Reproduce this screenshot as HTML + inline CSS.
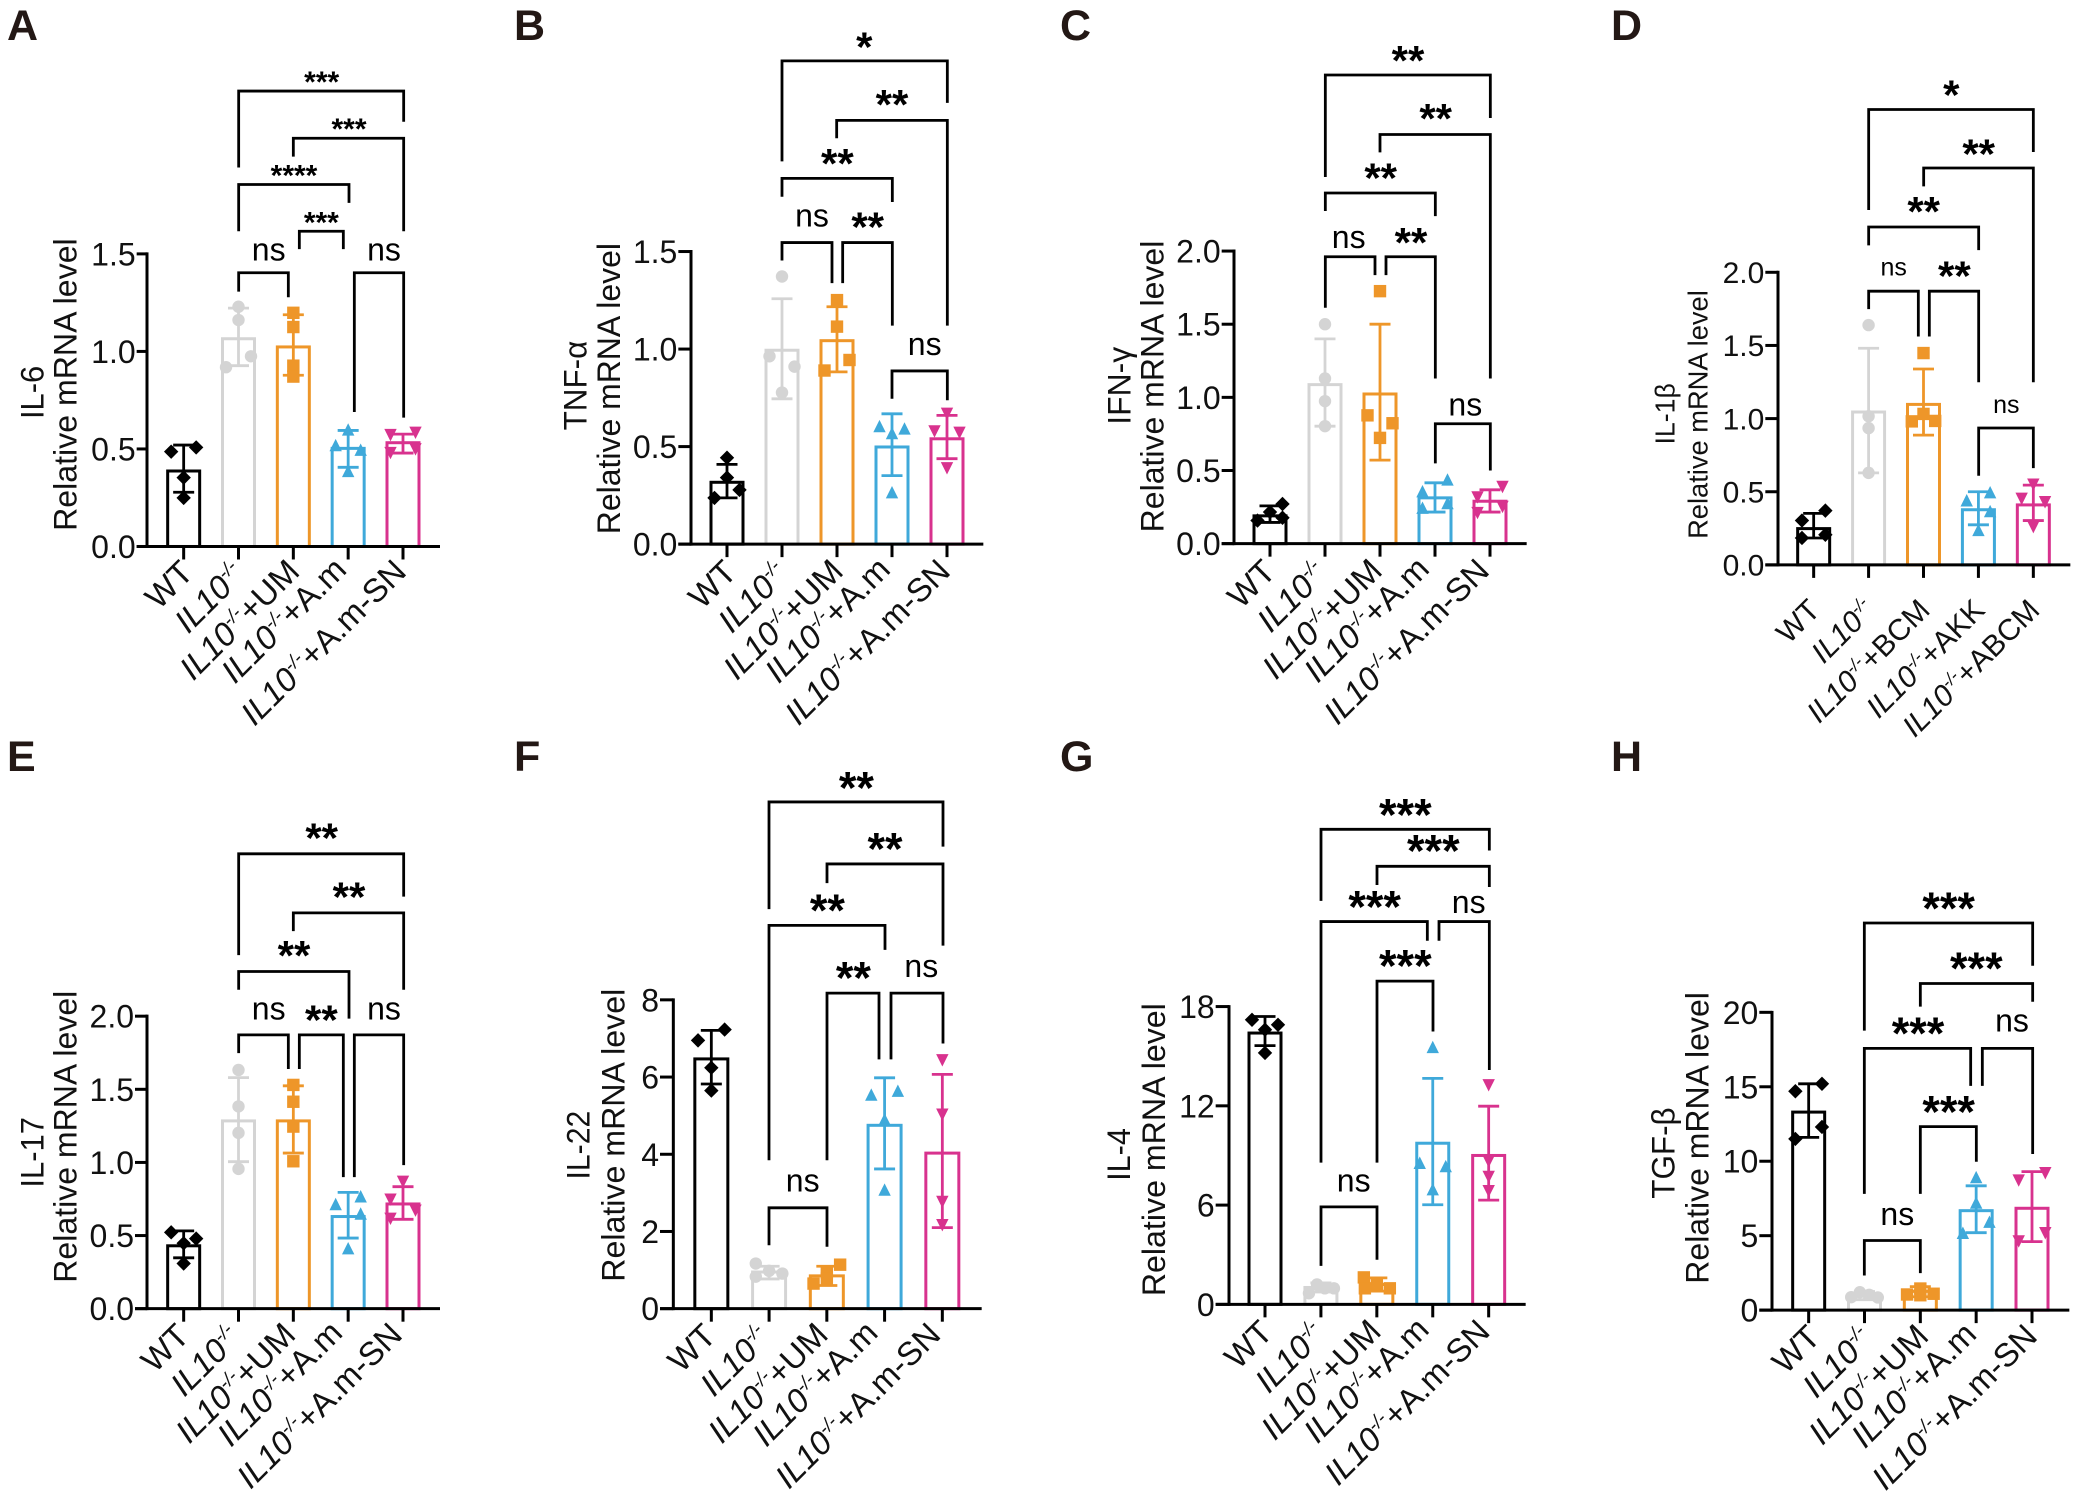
<!DOCTYPE html>
<html lang="en">
<head>
<meta charset="utf-8">
<title>Relative mRNA levels of cytokines</title>
<style>
html,body{margin:0;padding:0;background:#fff;}
svg{display:block;font-family:"Liberation Sans",Arial,sans-serif;}
.letter{font-size:43px;font-weight:700;fill:#231815;}
</style>
</head>
<body>
<svg id="figure" xmlns="http://www.w3.org/2000/svg" width="2077" height="1493" viewBox="0 0 2077 1493">
<rect width="2077" height="1493" fill="#fff"/>
<text class="letter" x="7" y="40">A</text>
<text class="letter" x="514" y="40">B</text>
<text class="letter" x="1060" y="40">C</text>
<text class="letter" x="1611" y="40">D</text>
<text class="letter" x="7" y="771">E</text>
<text class="letter" x="514" y="771">F</text>
<text class="letter" x="1060" y="771">G</text>
<text class="letter" x="1611" y="771">H</text>
</svg>
<script>
// ---------- shared category labels ----------
const categoriesUM = ["WT", "IL10-/-", "IL10-/-+UM", "IL10-/-+A.m", "IL10-/-+A.m-SN"];
const categoriesD = ["WT", "IL10-/-", "IL10-/-+BCM", "IL10-/-+AKK", "IL10-/-+ABCM"];

// ---------- panel A: IL-6 ----------
const ticksA = [0, 0.5, 1, 1.5];
const tickLabelsA = ["0.0", "0.5", "1.0", "1.5"];
const meansA = [0.387, 1.065, 1.023, 0.503, 0.532];
const errHighA = [0.52, 1.222, 1.188, 0.595, 0.576];
const errLowA = [0.278, 0.927, 0.878, 0.406, 0.479];
const pointsA = [[0.486, 0.508, 0.353, 0.249], [1.229, 1.161, 0.975, 0.919], [1.198, 1.125, 0.927, 0.871], [0.595, 0.515, 0.491, 0.382], [0.576, 0.588, 0.503, 0.484]];
const slotsA = [[-1, 1, 0, 0], [0, 0, 1, -1], [0, 0, 0, 0], [0, -1, 1, 0], [-1, 1, 1, -1]];

// ---------- panel B: TNF-alpha ----------
const ticksB = [0, 0.5, 1, 1.5];
const tickLabelsB = ["0.0", "0.5", "1.0", "1.5"];
const meansB = [0.317, 0.994, 1.043, 0.498, 0.54];
const errHighB = [0.409, 1.258, 1.217, 0.668, 0.66];
const errLowB = [0.237, 0.745, 0.883, 0.351, 0.438];
const pointsB = [[0.443, 0.341, 0.278, 0.237], [1.372, 0.963, 0.91, 0.777], [1.251, 1.115, 0.944, 0.89], [0.6, 0.588, 0.564, 0.261], [0.673, 0.583, 0.576, 0.394]];
const slotsB = [[0, 0, 1, -1], [0, -1, 1, 0], [0, 0, 1, -1], [-1, 1, 0, 0], [0, -1, 1, 0]];

// ---------- panel C: IFN-gamma ----------
const ticksC = [0, 0.5, 1, 1.5, 2];
const tickLabelsC = ["0.0", "0.5", "1.0", "1.5", "2.0"];
const meansC = [0.19, 1.087, 1.023, 0.313, 0.29];
const errHighC = [0.258, 1.4, 1.5, 0.416, 0.368];
const errLowC = [0.145, 0.803, 0.571, 0.216, 0.216];
const pointsC = [[0.271, 0.216, 0.177, 0.158], [1.5, 1.129, 0.974, 0.803], [1.726, 0.877, 0.823, 0.723], [0.432, 0.352, 0.271, 0.239], [0.394, 0.323, 0.258, 0.216]];
const slotsC = [[1, 0, 1, -1], [0, 0, 0, 0], [0, -1, 1, 0], [1, -1, 1, -1], [1, -1, 1, -1]];

// ---------- panel D: IL-1beta ----------
const ticksD = [0, 0.5, 1, 1.5, 2];
const tickLabelsD = ["0.0", "0.5", "1.0", "1.5", "2.0"];
const meansD = [0.248, 1.045, 1.097, 0.377, 0.41];
const errHighD = [0.352, 1.481, 1.339, 0.5, 0.545];
const errLowD = [0.184, 0.629, 0.887, 0.274, 0.303];
const pointsD = [[0.371, 0.303, 0.206, 0.184], [1.639, 1.016, 0.935, 0.629], [1.448, 1.032, 0.984, 0.981], [0.49, 0.435, 0.361, 0.232], [0.555, 0.458, 0.435, 0.265]];
const slotsD = [[1, -1, 1, -1], [0, 0, 0, 0], [0, 0, 1, -1], [1, -1, 1, 0], [0, -1, 1, 0]];

// ---------- panel E: IL-17 ----------
const ticksE = [0, 0.5, 1, 1.5, 2];
const tickLabelsE = ["0.0", "0.5", "1.0", "1.5", "2.0"];
const meansE = [0.43, 1.284, 1.284, 0.63, 0.716];
const errHighE = [0.532, 1.58, 1.524, 0.795, 0.834];
const errLowE = [0.348, 1.005, 1.064, 0.483, 0.611];
const pointsE = [[0.522, 0.479, 0.447, 0.309], [1.632, 1.383, 1.202, 0.956], [1.53, 1.415, 1.245, 1.008], [0.762, 0.709, 0.644, 0.407], [0.874, 0.752, 0.677, 0.621]];
const slotsE = [[-1, 1, 0, 0], [0, 0, 0, 0], [0, 0, 0, 0], [1, -1, 1, 0], [0, -1, 1, -1]];

// ---------- panel F: IL-22 ----------
const ticksF = [0, 2, 4, 6, 8];
const tickLabelsF = ["0", "2", "4", "6", "8"];
const meansF = [6.47, 0.95, 0.85, 4.75, 4.03];
const errHighF = [7.21, 1.1, 1.1, 5.98, 6.07];
const errLowF = [5.82, 0.77, 0.6, 3.62, 2.1];
const pointsF = [[7.23, 6.95, 6.24, 5.65], [1.17, 0.98, 0.83, 0.91], [1.14, 0.93, 0.65, 0.78], [5.52, 5.62, 4.88, 3.06], [6.46, 5.05, 2.79, 2.19]];
const slotsF = [[1, -1, 0, 0], [-1, 0, -1, 1], [1, 0, -1, 0], [-1, 1, 0, 0], [0, 0, 0, 0]];

// ---------- panel G: IL-4 ----------
const ticksG = [0, 6, 12, 18];
const tickLabelsG = ["0", "6", "12", "18"];
const meansG = [16.4, 1.02, 1.2, 9.74, 9.0];
const errHighG = [17.4, 1.3, 1.6, 13.66, 11.98];
const errLowG = [15.64, 0.75, 0.8, 6.02, 6.3];
const pointsG = [[17.2, 16.9, 16.6, 15.2], [0.67, 1.2, 0.97, 0.97], [1.63, 1.2, 0.97, 0.97], [15.5, 8.5, 8.3, 6.9], [13.3, 8.7, 7.76, 6.9]];
const slotsG = [[-1, 1, 0, 0], [-0.92, -0.3, 0.3, 1], [-1, 0, -0.92, 1], [0, -1, 1, 0], [0, 0, 0, 0]];

// ---------- panel H: TGF-beta ----------
const ticksH = [0, 5, 10, 15, 20];
const tickLabelsH = ["0", "5", "10", "15", "20"];
const meansH = [13.3, 0.97, 1.26, 6.68, 6.84];
const errHighH = [15.2, 1.25, 1.58, 8.35, 9.3];
const errLowH = [11.6, 0.7, 0.9, 5.2, 4.6];
const pointsH = [[15.2, 14.7, 12.3, 11.5], [1.2, 1.03, 0.87, 0.85], [1.45, 1.1, 1.05, 1.0], [8.87, 7.16, 5.87, 5.13], [9.26, 8.77, 5.23, 4.68]];
const slotsH = [[1, -1, 1, -1], [-0.35, 0.35, -1, 1], [0, 1, -1, 0], [0, 0, 1, -1], [1, -1, 1, -1]];

// ---------- bar styling ----------
const seriesColors = ["#000000", "#d4d4d4", "#ee9629", "#3fa9da", "#d8328e"];
const markerKinds = ["diamond", "circle", "square", "triangle", "down"];

// ---------- label placement nudges per category position ----------
const labelNudgeX = [6.4, 3, 3, -5, 0];
const labelNudgeY = [1, 3, 0, -2, 0];

// ---------- layout: measured in crop units (x / 3, y / sy, plus ox / oy) ----------
const panels = [
{ id:"a", ox:0, oy:0, sy:2.119, axisX:441, base:1158, top:538, yMax:1.5, xEnd:1320, cat0:551, step:164.5, tickLeft:410, tickFs:32, labelFs:33, labelDx:5, labelDy:27, nudge:1, starFs:30, nsFs:32, slot:12.5, barW:32,
  categories:categoriesUM, ticks:ticksA, tickLabels:tickLabelsA, means:meansA, hi:errHighA, lo:errLowA, points:pointsA, slots:slotsA,
  titles:[["IL-6",130,888,775],["Relative mRNA level",230,1125,505]],
  brackets:[[716,1211,193,355,258,"***",965,168],[880,1211,293,332,490,"***",1047,267],[716,1047,391,490,430,"****",882,366],[898,1030,490,528,528,"***",964,465],[716,865,578,618,630,"ns",806,552],[1063,1211,578,873,885,"ns",1152,552]] },
{ id:"b", ox:520, oy:0, sy:2.119, axisX:513, base:1153, top:533, yMax:1.5, xEnd:1390, cat0:621, step:165, tickLeft:475, tickFs:32, labelFs:33, labelDx:5, labelDy:29, nudge:1, starFs:42, nsFs:32, slot:12.5, barW:32,
  categories:categoriesUM, ticks:ticksB, tickLabels:tickLabelsB, means:meansB, hi:errHighB, lo:errLowB, points:pointsB, slots:slotsB,
  titles:[["TNF-α",200,912,722],["Relative mRNA level",300,1132,515]],
  brackets:[[786,1282,129,342,218,"*",1033,88],[950,1282,255,293,690,"**",1116,210],[786,1117,378,417,428,"**",952,335],[786,936,514,552,600,"ns",876,480],[968,1117,514,600,690,"**",1043,470],[1116,1282,786,845,848,"ns",1214,752]] },
{ id:"c", ox:1040, oy:0, sy:2.119, axisX:582, base:1152, top:532, yMax:2, xEnd:1460, cat0:690, step:165, tickLeft:545, tickFs:32, labelFs:33, labelDx:1, labelDy:29, nudge:1, starFs:42, nsFs:32, slot:12.5, barW:32,
  categories:categoriesUM, ticks:ticksC, tickLabels:tickLabelsC, means:meansC, hi:errHighC, lo:errLowC, points:pointsC, slots:slotsC,
  titles:[["IFN-γ",272,900,735],["Relative mRNA level",370,1128,510]],
  brackets:[[856,1351,159,375,250,"**",1104,117],[1020,1351,285,323,802,"**",1187,240],[856,1186,409,447,458,"**",1022,366],[856,1005,544,652,583,"ns",926,525],[1038,1186,544,583,802,"**",1113,502],[1186,1351,898,982,997,"ns",1276,880]] },
{ id:"d", ox:1557, oy:0, sy:2.119, axisX:663, base:1197, top:577, yMax:2, xEnd:1540, cat0:770, step:164.75, tickLeft:625, tickFs:30, labelFs:30, labelDx:8, labelDy:47, nudge:0, starFs:42, nsFs:25, slot:11.7, barW:32,
  categories:categoriesD, ticks:ticksD, tickLabels:tickLabelsD, means:meansD, hi:errHighD, lo:errLowD, points:pointsD, slots:slotsD,
  titles:[["IL-1β",352,942,812],["Relative mRNA level",452,1142,615]],
  brackets:[[935,1429,232,445,322,"*",1183,190],[1100,1429,356,395,810,"**",1265,315],[935,1265,481,520,530,"**",1100,437],[935,1084,617,655,713,"ns",1010,584],[1117,1265,617,713,810,"**",1192,573],[1265,1429,907,1008,992,"ns",1348,875]] },
{ id:"e", ox:0, oy:740, sy:2.082, axisX:441, base:1184, top:575, yMax:2, xEnd:1320, cat0:551, step:164.5, tickLeft:405, tickFs:32, labelFs:33, labelDx:1, labelDy:28, nudge:1, starFs:42, nsFs:32, slot:12.5, barW:32,
  categories:categoriesUM, ticks:ticksE, tickLabels:tickLabelsE, means:meansE, hi:errHighE, lo:errLowE, points:pointsE, slots:slotsE,
  titles:[["IL-17",130,932,785],["Relative mRNA level",230,1130,522]],
  brackets:[[716,1211,237,448,326,"**",965,193],[880,1211,360,398,520,"**",1047,316],[716,1047,482,520,580,"**",882,438],[716,865,614,652,685,"ns",806,582],[898,1030,614,685,910,"**",964,572],[1063,1211,614,910,885,"ns",1152,582]] },
{ id:"f", ox:520, oy:740, sy:2.082, axisX:460, base:1184, top:541, yMax:8, xEnd:1385, cat0:574, step:173.25, tickLeft:420, tickFs:32, labelFs:33, labelDx:0, labelDy:28, nudge:1, starFs:45, nsFs:32, slot:13.3, barW:33,
  categories:categoriesUM, ticks:ticksF, tickLabels:tickLabelsF, means:meansF, hi:errHighF, lo:errLowF, points:pointsF, slots:slotsF,
  titles:[["IL-22",208,915,772],["Relative mRNA level",313,1128,518]],
  brackets:[[747,1269,129,352,222,"**",1009,87],[921,1269,258,298,428,"**",1095,214],[747,1095,386,875,437,"**",922,342],[921,1077,527,875,665,"**",1000,483],[1113,1269,527,665,632,"ns",1204,493],[747,921,974,1052,1055,"ns",848,940]] },
{ id:"g", ox:1040, oy:740, sy:2.082, axisX:567, base:1175, top:555, yMax:18, xEnd:1457, cat0:675, step:167.75, tickLeft:527, tickFs:32, labelFs:33, labelDx:3, labelDy:29, nudge:1, starFs:45, nsFs:32, slot:13, barW:32,
  categories:categoriesUM, ticks:ticksG, tickLabels:tickLabelsG, means:meansG, hi:errHighG, lo:errLowG, points:pointsG, slots:slotsG,
  titles:[["IL-4",270,918,808],["Relative mRNA level",375,1158,548]],
  brackets:[[843,1348,186,335,230,"***",1096,143],[1011,1348,263,302,306,"***",1180,218],[843,1162,378,880,418,"***",1004,335],[1197,1348,378,418,687,"ns",1286,360],[1011,1179,502,880,607,"***",1096,458],[843,1011,972,1095,1082,"ns",941,940]] },
{ id:"h", ox:1557, oy:740, sy:2.082, axisX:645, base:1187, top:567, yMax:20, xEnd:1537, cat0:755, step:167.5, tickLeft:607, tickFs:32, labelFs:33, labelDx:7, labelDy:28, nudge:1, starFs:45, nsFs:32, slot:13.3, barW:32,
  categories:categoriesUM, ticks:ticksH, tickLabels:tickLabelsH, means:meansH, hi:errHighH, lo:errLowH, points:pointsH, slots:slotsH,
  titles:[["TGF-β",352,955,765],["Relative mRNA level",455,1132,525]],
  brackets:[[922,1427,381,605,470,"***",1175,338],[1090,1427,507,555,545,"***",1258,463],[922,1241,642,945,720,"***",1083,598],[1276,1427,642,720,862,"ns",1365,607],[1090,1258,805,945,878,"***",1175,762],[922,1090,1042,1115,1110,"ns",1021,1010]] }
];

const SVG_NS = "http://www.w3.org/2000/svg";
const root = document.getElementById("figure");

function svgEl(tag, parent, attrs) {
  const node = document.createElementNS(SVG_NS, tag);
  for (const k in attrs) node.setAttribute(k, attrs[k]);
  parent.appendChild(node);
  return node;
}

function drawMarker(parent, kind, cx, cy, color) {
  const r = 6.2;
  let el;
  if (kind === "circle") {
    el = svgEl("circle", parent, { cx: cx, cy: cy, r: r, fill: color });
  } else if (kind === "square") {
    el = svgEl("rect", parent, { x: cx - r, y: cy - r, width: 2 * r, height: 2 * r, fill: color });
  } else if (kind === "diamond") {
    const p = [[cx, cy - r - 1], [cx + r + 1, cy], [cx, cy + r + 1], [cx - r - 1, cy]];
    el = svgEl("polygon", parent, { points: p.join(" "), fill: color });
  } else if (kind === "triangle") {
    const p = [[cx, cy - r - 1], [cx + r, cy + r - 1], [cx - r, cy + r - 1]];
    el = svgEl("polygon", parent, { points: p.join(" "), fill: color });
  } else {
    const p = [[cx, cy + r + 1], [cx + r, cy - r + 1], [cx - r, cy - r + 1]];
    el = svgEl("polygon", parent, { points: p.join(" "), fill: color });
  }
  return el;
}

function drawPanel(p) {
  const X = function (zx) { return p.ox + zx / 3; };
  const Y = function (zy) { return p.oy + zy / p.sy; };
  const xCat = function (i) { return X(p.cat0 + i * p.step); };
  const yVal = function (v) { return Y(p.base + (p.top - p.base) * v / p.yMax); };
  const base = Y(p.base);

  const g = svgEl("g", root, {});
  
  

  // bars
  p.means.forEach(function (m, i) {
    const bar = svgEl("rect", g, { x: xCat(i) - p.barW / 2, y: yVal(m), width: p.barW, height: Math.max(0, base - yVal(m)), fill: "none", stroke: seriesColors[i], "stroke-width": 3 });
    
    
  });

  // error bars
  p.means.forEach(function (m, i) {
    const cx = xCat(i);
    const yh = yVal(p.hi[i]);
    const yl = yVal(p.lo[i]);
    const d = "M" + cx + " " + yh + "V" + yl + "M" + (cx - 10.5) + " " + yh + "H" + (cx + 10.5) + "M" + (cx - 10.5) + " " + yl + "H" + (cx + 10.5);
    const err = svgEl("path", g, { d: d, fill: "none", stroke: seriesColors[i], "stroke-width": 2.8 });
    
    
  });

  // data points
  p.points.forEach(function (vals, i) {
    vals.forEach(function (v, j) {
      const mk = drawMarker(g, markerKinds[i], xCat(i) + p.slots[i][j] * p.slot, yVal(v), seriesColors[i]);
      
      
    });
  });

  // axes
  const yAxis = svgEl("line", g, { x1: X(p.axisX), x2: X(p.axisX), y1: yVal(p.yMax) - 1.5, y2: base + 1.5, stroke: "#000", "stroke-width": 3 });
  
  
  const xAxis = svgEl("line", g, { x1: X(p.tickLeft), x2: X(p.xEnd), y1: base, y2: base, stroke: "#000", "stroke-width": 3 });
  
  

  // y ticks
  p.ticks.forEach(function (t, i) {
    const tick = svgEl("line", g, { x1: X(p.tickLeft), x2: X(p.axisX), y1: yVal(t), y2: yVal(t), stroke: "#000", "stroke-width": 3 });
    
    
    const lab = svgEl("text", g, { x: X(p.tickLeft) - 1, y: yVal(t) + p.tickFs * 0.36, "text-anchor": "end", "font-size": p.tickFs, fill: "#111" });
    
    
    lab.textContent = p.tickLabels[i];
  });

  // x ticks and rotated labels
  p.categories.forEach(function (c, i) {
    const cx = xCat(i);
    const tick = svgEl("line", g, { x1: cx, x2: cx, y1: base, y2: base + 13, stroke: "#000", "stroke-width": 3 });
    
    
    const lx = cx + p.labelDx + p.nudge * labelNudgeX[i];
    const ly = base + p.labelDy + p.nudge * labelNudgeY[i];
    const lab = svgEl("text", g, { transform: "translate(" + lx + "," + ly + ") rotate(-45)", "text-anchor": "end", "font-size": p.labelFs, fill: "#111" });
    
    
    if (c.indexOf("-/-") < 0) {
      lab.textContent = c;
    } else {
      const suffix = c.split("-/-")[1];
      const a = svgEl("tspan", lab, { "font-style": "italic" });
      a.textContent = "IL10";
      const sh = p.labelFs * 0.38;
      const b = svgEl("tspan", lab, { "font-style": "italic", "font-size": p.labelFs * 0.58, dy: -sh });
      b.textContent = "-/-";
      const s = svgEl("tspan", lab, { dy: sh });
      s.textContent = suffix || "\u200b";
    }
  });

  // axis titles
  p.titles.forEach(function (t, i) {
    const len = (t[2] - t[3]) / p.sy;
    const ty = Y((t[2] + t[3]) / 2);
    const title = svgEl("text", g, { transform: "translate(" + X(t[1]) + "," + ty + ") rotate(-90)", "text-anchor": "middle", "font-size": p.id === "d" ? 28 : 32, fill: "#111", textLength: len, lengthAdjust: "spacingAndGlyphs" });
    
    
    title.textContent = t[0];
  });

  // significance brackets
  p.brackets.forEach(function (b, i) {
    const d = "M" + X(b[0]) + " " + Y(b[3]) + "V" + Y(b[2]) + "H" + X(b[1]) + "V" + Y(b[4]);
    const br = svgEl("path", g, { d: d, fill: "none", stroke: "#000", "stroke-width": 2.8 });
    
    
    const isNs = b[5] === "ns";
    const fs = isNs ? p.nsFs : p.starFs;
    const ly = isNs ? Y(b[7]) : Y(b[7]) + fs * 0.58 - 4.5;
    const lab = svgEl("text", g, { x: X(b[6]), y: ly, "text-anchor": "middle", "font-size": fs, "font-weight": isNs ? 400 : 700, fill: "#000" });
    
    
    lab.textContent = b[5];
  });
}

panels.forEach(drawPanel);
</script>
</body>
</html>
